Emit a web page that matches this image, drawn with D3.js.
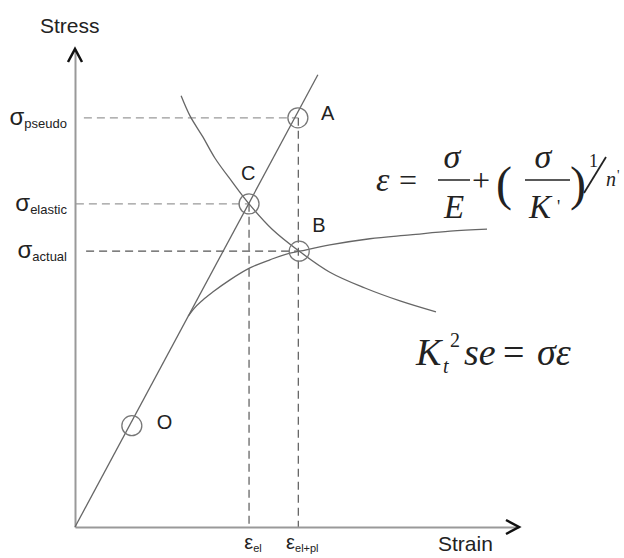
<!DOCTYPE html>
<html>
<head>
<meta charset="utf-8">
<script src="https://cdn.jsdelivr.net/npm/d3@7/dist/d3.min.js"></script>
<style>
  body { margin: 0; background: #fff; }
  text { fill: #222; }
  .sans { font-family: "Liberation Sans", Arial, sans-serif; }
  .serif { font-family: "Liberation Serif", "Times New Roman", serif; }
</style>
</head>
<body>
<script>
// data (strain / stress in arbitrary units, origin at the axes corner)
var elasticLine = [[0, 0], [5.47, 9.46]];

// cyclic stress-strain curve (Ramberg-Osgood)
var cyclicCurve = [[2.55, 4.41], [2.68, 4.57], [2.88, 4.75], [3.11, 4.92], [3.49, 5.17], [3.94, 5.42],
  [4.39, 5.59], [4.84, 5.73], [5.05, 5.77], [5.74, 5.90], [6.64, 6.03], [7.55, 6.11],
  [8.45, 6.19], [9.28, 6.23]];

// Neuber hyperbola
var neuberCurve = [[2.39, 9.02], [2.59, 8.60], [2.88, 8.16], [3.15, 7.72], [3.54, 7.22],
  [3.92, 6.76], [4.44, 6.23], [5.05, 5.77], [5.74, 5.33], [6.53, 5.00], [7.32, 4.73], [8.13, 4.50]];

var pointNames = ["O", "C", "A", "B"];
var pointStrain = [1.28, 3.92, 5.02, 5.05];
var pointStress = [2.12, 6.76, 8.56, 5.77];

var stressNames = ["pseudo", "elastic", "actual"];
var stressValues = [8.56, 6.76, 5.77];
var stressEnds = [5.02, 3.92, 5.05];

var strainNames = ["el", "el+pl"];
var strainValues = [3.92, 5.03];
var strainTops = [6.76, 8.56];

var width = 624, height = 558;

var x = d3.scaleLinear().domain([0, 10]).range([75, 519]);
var y = d3.scaleLinear().domain([0, 10]).range([527, 49]);

var svg = d3.select("body").append("svg")
    .attr("width", width)
    .attr("height", height);

// dashed guide lines
var guides = svg.append("g")
    .attr("stroke-dasharray", "8,5")
    .attr("stroke-width", 1.3);

var stressStart = [0.2, 0.02, 0.25];
stressNames.forEach(function(n, i) {
  guides.append("line")
      .attr("x1", x(stressStart[i])).attr("x2", x(stressEnds[i]))
      .attr("y1", y(stressValues[i])).attr("y2", y(stressValues[i]))
      .attr("stroke", i == 2 ? "#555" : "#999");
});
strainNames.forEach(function(n, i) {
  guides.append("line")
      .attr("x1", x(strainValues[i])).attr("x2", x(strainValues[i]))
      .attr("y1", y(strainTops[i])).attr("y2", y(0))
      .attr("stroke", "#666");
});

// axes
svg.append("g")
    .attr("transform", "translate(0," + y(0) + ")")
    .call(d3.axisBottom(x).tickValues([]).tickSizeOuter(0))
    .select(".domain").attr("stroke", "#999").attr("stroke-width", 2);
svg.append("g")
    .attr("transform", "translate(" + x(0) + ",0)")
    .call(d3.axisLeft(y).tickValues([]).tickSizeOuter(0))
    .select(".domain").attr("stroke", "#999").attr("stroke-width", 2);

// arrow heads
svg.append("path")
    .attr("d", "M" + (x(0) - 7) + "," + (y(10) + 13) + "L" + x(0) + "," + y(10) + "L" + (x(0) + 7) + "," + (y(10) + 13))
    .attr("fill", "none").attr("stroke", "#111").attr("stroke-width", 2.5);
svg.append("path")
    .attr("d", "M" + (x(10) - 13) + "," + (y(0) - 7) + "L" + x(10) + "," + y(0) + "L" + (x(10) - 13) + "," + (y(0) + 7))
    .attr("fill", "none").attr("stroke", "#111").attr("stroke-width", 2.5);

// curves
var line = d3.line()
    .x(function(d) { return x(d[0]); })
    .y(function(d) { return y(d[1]); });

svg.append("path")
    .datum(elasticLine)
    .attr("d", line)
    .attr("fill", "none").attr("stroke", "#666").attr("stroke-width", 1.3);

svg.append("path")
    .datum(cyclicCurve)
    .attr("d", line.curve(d3.curveMonotoneX))
    .attr("fill", "none").attr("stroke", "#666").attr("stroke-width", 1.3);

svg.append("path")
    .datum(neuberCurve)
    .attr("d", line.curve(d3.curveCatmullRom))
    .attr("fill", "none").attr("stroke", "#666").attr("stroke-width", 1.3);

// marked points
var labelOffset = { O: [25, 3], C: [-8, -24], A: [23, 2], B: [13, -19] };
pointNames.forEach(function(n, i) {
  var cx = x(pointStrain[i]), cy = y(pointStress[i]);
  svg.append("circle")
      .attr("cx", cx).attr("cy", cy).attr("r", 10)
      .attr("fill", "none").attr("stroke", "#777").attr("stroke-width", 1.3);
  svg.append("text")
      .attr("class", "sans")
      .attr("x", cx + labelOffset[n][0])
      .attr("y", cy + labelOffset[n][1])
      .style("font-size", "20px")
      .text(n);
});

// stress labels
stressNames.forEach(function(n, i) {
  var t = svg.append("text")
      .attr("class", "sans")
      .attr("x", 67)
      .attr("y", y(stressValues[i]) + 7)
      .attr("text-anchor", "end");
  t.append("tspan").style("font-size", "24px").text("σ");
  t.append("tspan").style("font-size", "13px").attr("dy", 3).text(n);
});

// strain labels
strainNames.forEach(function(n, i) {
  var t = svg.append("text")
      .attr("class", "sans")
      .attr("x", x(strainValues[i]) + 4)
      .attr("y", 549)
      .attr("text-anchor", "middle");
  t.append("tspan").style("font-size", "20px").text("ε");
  t.append("tspan").style("font-size", "11px").attr("dy", 3).text(n);
});

// axis titles
svg.append("text")
    .attr("class", "sans")
    .attr("x", 40).attr("y", 33)
    .style("font-size", "21px")
    .text("Stress");
svg.append("text")
    .attr("class", "sans")
    .attr("x", 438).attr("y", 551)
    .style("font-size", "21px")
    .text("Strain");

// formulas
function tex(px, py, str, size, italic, anchor) {
  return svg.append("text")
      .attr("class", "serif")
      .attr("x", px).attr("y", py)
      .attr("text-anchor", anchor || "start")
      .style("font-size", size + "px")
      .style("font-style", italic ? "italic" : "normal")
      .text(str);
}
function bar(x1, x2, py) {
  svg.append("line")
      .attr("x1", x1).attr("x2", x2).attr("y1", py).attr("y2", py)
      .attr("stroke", "#222").attr("stroke-width", 1.5);
}

tex(376, 191, "ε", 34, true);
tex(399, 191, "=", 32, false);
tex(452, 168, "σ", 34, true, "middle");
bar(438, 470, 180);
tex(454, 218, "E", 33, true, "middle");
tex(472, 191, "+", 32, false);
tex(496, 200, "(", 48, false);
tex(543, 168, "σ", 34, true, "middle");
bar(525, 570, 180);
tex(540, 218, "K", 33, true, "middle");
tex(557, 213, "'", 18, false);
tex(570, 200, ")", 48, false);
tex(589, 167, "1", 18, false);
svg.append("line")
    .attr("x1", 584).attr("y1", 193).attr("x2", 606).attr("y2", 157)
    .attr("stroke", "#222").attr("stroke-width", 1.8);
tex(606, 186, "n", 20, true);
tex(617, 180, "'", 14, false);

tex(416, 365, "K", 38, true);
tex(443, 373, "t", 20, true);
tex(450, 347, "2", 20, false);
tex(464, 365, "se", 38, true);
tex(503, 365, "=", 38, false);
tex(537, 365, "σε", 38, true);
</script>
</body>
</html>
